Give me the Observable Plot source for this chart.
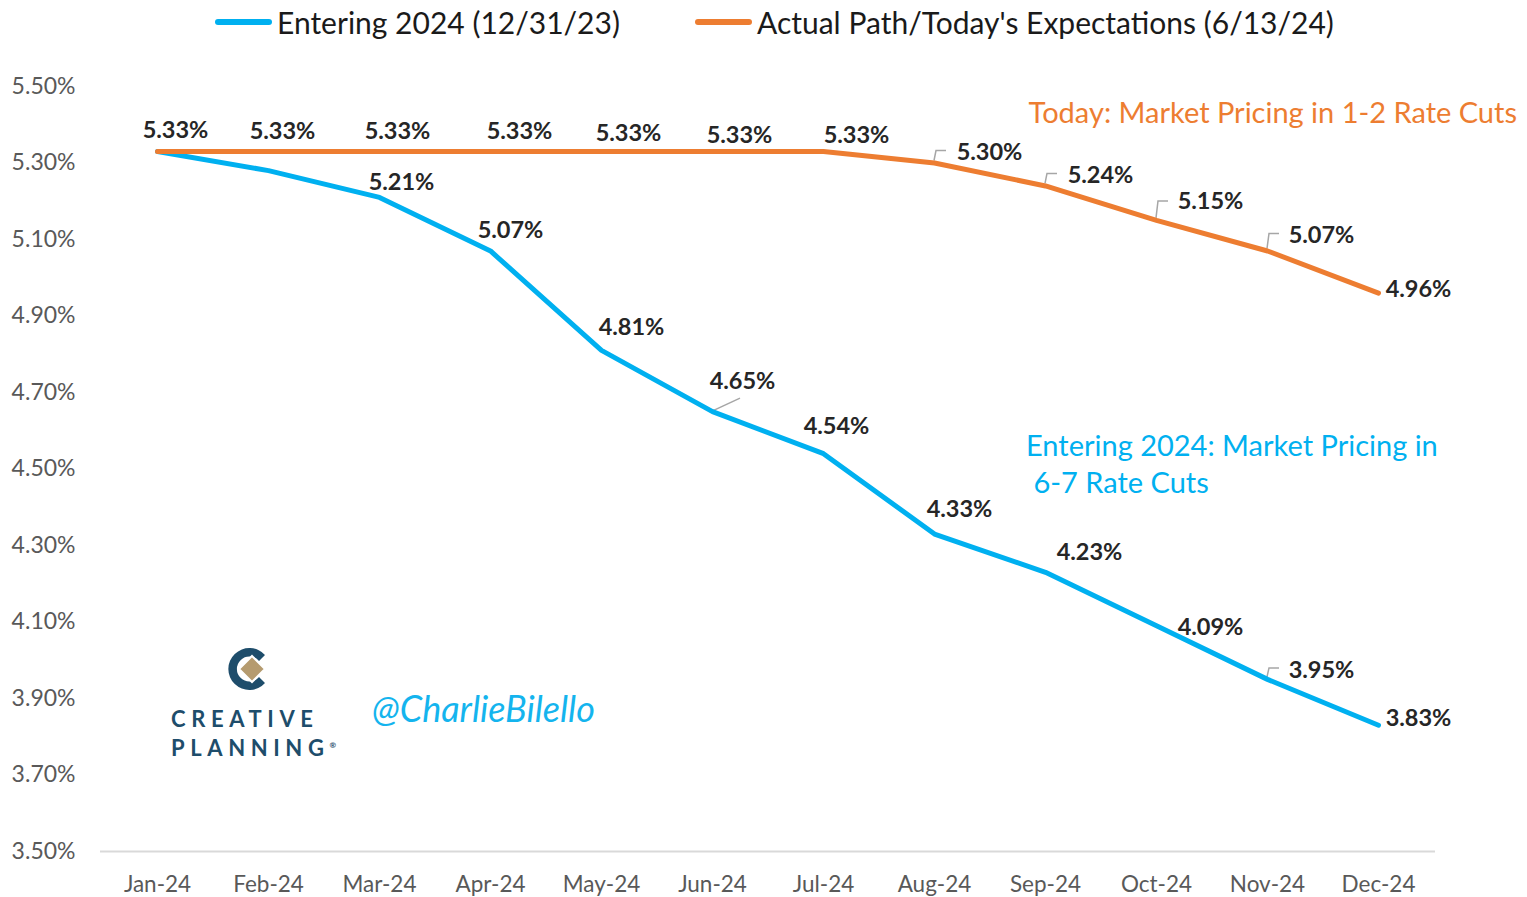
<!DOCTYPE html>
<html>
<head>
<meta charset="utf-8">
<script src="https://cdn.jsdelivr.net/npm/d3@7"></script>
<script src="https://cdn.jsdelivr.net/npm/@observablehq/plot@0.6"></script>
<style>
  body { margin:0; background:#fff; font-family: Lato, "Open Sans", sans-serif; }
  #page { position:relative; width:1527px; height:897px; overflow:hidden; background:#fff; }
  #legend { position:relative; height:44px; }
  .lg { position:absolute; top:0; height:44px; display:flex; align-items:center; font-size:30px; color:#1a1a1a; white-space:nowrap; }
  .sw { width:57px; height:6px; border-radius:3px; margin-right:5px; }
  .anno { position:absolute; font-size:29px; white-space:nowrap; line-height:34px; }
  #logo { position:absolute; left:171px; top:645px; width:170px; color:#1e4d6b; font-weight:700; }
  #logo .w { font-size:22px; letter-spacing:5.6px; line-height:27px; }
  #handle { position:absolute; left:372px; top:688px; font-size:36px; font-style:italic; color:#14b4ee; line-height:40px; }
</style>
</head>
<body>
<div id="page">
  <div id="legend"></div>
  <div id="chart"></div>
  <div id="annos"></div>
</div>
<script>
// ---- data ----
const months = ["Jan-24","Feb-24","Mar-24","Apr-24","May-24","Jun-24","Jul-24","Aug-24","Sep-24","Oct-24","Nov-24","Dec-24"];
const entering2024 = [5.33, 5.28, 5.21, 5.07, 4.81, 4.65, 4.54, 4.33, 4.23, 4.09, 3.95, 3.83];
const actualPath   = [5.33, 5.33, 5.33, 5.33, 5.33, 5.33, 5.33, 5.30, 5.24, 5.15, 5.07, 4.96];
const yTicks = [3.5, 3.7, 3.9, 4.1, 4.3, 4.5, 4.7, 4.9, 5.1, 5.3, 5.5];
const seriesNames = ["Entering 2024 (12/31/23)", "Actual Path/Today's Expectations (6/13/24)"];
const annotationOrange = "Today:  Market Pricing in 1-2 Rate Cuts";
const annotationBlue = ["Entering 2024: Market Pricing in", " 6-7 Rate Cuts"];

// ---- styling / layout (not data) ----
const BLUE = "#00B0F0", ORANGE = "#ED7D31";
// label offsets in px relative to each point
const orangeOff = [[18,-21],[14,-20],[18,-20],[29,-20],[27,-18],[27,-16],[33,-16],[55,-11],[55,-10],[54,-19],[54,-16],[40,-4]];
const blueOff = [null,null,[22,-15],[20,-21],[30,-23],[30,-30],[13,-27],[25,-25],[44,-20],[54,2],[54,-9],[40,-7]];
// leader lines: [seriesKey, index, topOffset]
const leaders = [["a",7,-12],["a",8,-12],["a",9,-19],["a",10,-17],["e",10,-11]];

const rows = months.map((m, i) => ({month: m, enter: entering2024[i], actual: actualPath[i], i}));

// legend
const legend = document.getElementById("legend");
[[seriesNames[0], BLUE, 215], [seriesNames[1], ORANGE, 695]].forEach(([t, c, left]) => {
  const d = document.createElement("div");
  d.className = "lg"; d.style.left = left + "px";
  d.innerHTML = `<span class="sw" style="background:${c}"></span><span>${t}</span>`;
  legend.appendChild(d);
});

const fmt = d => d.toFixed(2) + "%";

const leaderMark = (index, scales) => {
  const g = d3.create("svg:g").attr("fill", "none").attr("stroke", "#a6a6a6").attr("stroke-width", 1.5);
  for (const [s, i, top] of leaders) {
    const px = scales.x(months[i]);
    const py = scales.y(s === "a" ? actualPath[i] : entering2024[i]);
    g.append("path").attr("d", `M${px},${py - 2}L${px + 2},${py + top}L${px + 12},${py + top}`);
  }
  // diagonal leader for Jun blue label
  const jx = scales.x(months[5]), jy = scales.y(entering2024[5]);
  g.append("path").attr("d", `M${jx},${jy}L${jx + 28},${jy - 13}`);
  return g.node();
};

const offsetRender = (data, offs, key) => (index, scales, values, dims, ctx, next) => {
  const el = next(index, scales, values, dims, ctx);
  d3.select(el).selectAll("text").each(function(_, k) {
    const i = index[k];
    const [ox, oy] = offs[data[i].i];
    d3.select(this).attr("transform", `translate(${values.x[i] + ox},${values.y[i] + oy})`);
  });
  return el;
};

const blueRows = rows.filter(d => blueOff[d.i]);

const chart = Plot.plot({
  width: 1527,
  height: 853,
  marginLeft: 100,
  marginRight: 92,
  marginTop: 42,
  marginBottom: 46,
  style: {fontFamily: "Lato, 'Open Sans', sans-serif", fontSize: "22px", color: "#595959", background: "#fff"},
  x: {type: "point", domain: months, padding: 0.5},
  y: {domain: [3.5, 5.5]},
  marks: [
    Plot.axisY({ticks: yTicks, tickFormat: fmt, tickSize: 0, tickPadding: 25, label: null, fontSize: 23}),
    Plot.axisX({tickSize: 0, tickPadding: 25, label: null, fontSize: 22.5}),
    Plot.ruleY([3.5], {stroke: "#d9d9d9", strokeWidth: 2}),
    leaderMark,
    Plot.line(rows, {x: "month", y: "enter", stroke: BLUE, strokeWidth: 5, curve: "linear", strokeLinejoin: "round", strokeLinecap: "round"}),
    Plot.line(rows, {x: "month", y: "actual", stroke: ORANGE, strokeWidth: 5, curve: "linear", strokeLinejoin: "round", strokeLinecap: "round"}),
    Plot.text(rows, {x: "month", y: "actual", text: d => fmt(d.actual),
      fill: "#262626", fontWeight: "bold", fontSize: 23.5, render: offsetRender(rows, orangeOff)}),
    Plot.text(blueRows, {x: "month", y: "enter", text: d => fmt(d.enter),
      fill: "#262626", fontWeight: "bold", fontSize: 23.5, render: offsetRender(blueRows, blueOff)})
  ]
});
document.getElementById("chart").appendChild(chart);

// annotations & branding (overlay text)
const annos = document.getElementById("annos");
annos.innerHTML = `
  <div class="anno" style="right:10px; top:95px; color:${ORANGE};">${annotationOrange}</div>
  <div class="anno" style="left:1026px; top:428px; color:${BLUE};">${annotationBlue[0]}</div>
  <div class="anno" style="left:1026px; top:465px; color:${BLUE}; white-space:pre;">${annotationBlue[1]}</div>
  <div id="logo">
    <svg width="160" height="50" style="display:block">
      <g transform="translate(78,24)">
        <path d="M16,-14 A21,21 0 1 0 16,14 L10,8 A12.5,12.5 0 1 1 10,-8 Z" fill="#1e4d6b"/>
        <path d="M3,-13 L16,0 L3,13 L-10,0 Z" fill="#b59b6f" stroke="#fff" stroke-width="2"/>
      </g>
    </svg>
    <div class="w" style="margin-top:10px">CREATIVE</div>
    <div class="w">PLANNING<sup style="font-size:8px;letter-spacing:0">®</sup></div>
  </div>
  <div id="handle">@CharlieBilello</div>
`;
</script>
</body>
</html>
